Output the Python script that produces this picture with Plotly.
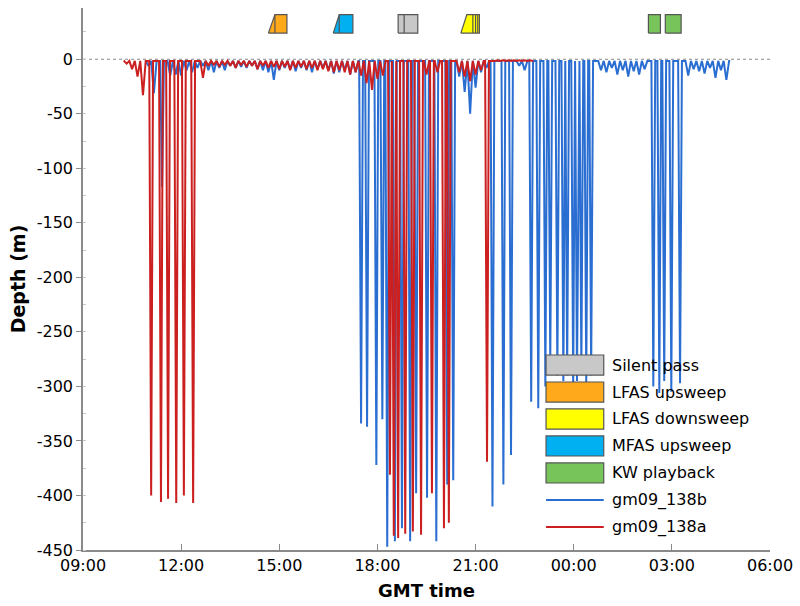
import pandas as pd
import plotly.graph_objects as go

# ---------------------------------------------------------------------------
# Data (clock times GMT, depths in metres)
# ---------------------------------------------------------------------------
TAG_B = "gm09_138b"
TAG_A = "gm09_138a"

# gm09_138b: record limits, deep dives and shallow activity (10-min samples)
b_start, b_end = "10:55", "04:47"
b_dive_times = ["11:25",
                "17:30", "17:41", "17:58", "18:09", "18:18", "18:32", "18:45",
                "19:00", "19:11", "19:31", "19:48", "20:08", "20:19",
                "21:31", "21:51", "22:05", "22:42", "22:55", "23:08", "23:17",
                "23:30", "23:41", "23:48", "23:59", "00:06", "00:14", "00:23",
                "00:32",
                "02:26", "02:37", "02:46", "02:59", "03:15"]
b_dive_depths = [-117,
                 -334, -337, -372, -330, -447, -442, -430,
                 -442, -398, -402, -442, -390, -386,
                 -410, -390, -363, -314, -320, -300, -279,
                 -290, -295, -290, -300, -295, -285, -298,
                 -290,
                 -300, -306, -295, -305, -297]
b_shallow_start = "11:00"
b_shallow_depths = [
    -6, -31, -20, -22, -15, -14,      # 11h
    -15, -10, -12, -8, -6, -10,       # 12h
    -12, -8, -10, -6, -8, -7,         # 13h
    -8, -6, -9, -10, -12, -19,        # 14h
    -10, -8, -9, -11, -8, -10,        # 15h
    -12, -9, -8, -10, -13, -12,       # 16h
    -10, -14, -12, -18, -20, -16,     # 17h
    -20, -18, -15, -22, -18, -20,     # 18h
    -15, -18, -22, -16, -20, -18,     # 19h
    -22, -20, -24, -16, -30, -50,     # 20h
    -26, -12, -8, -10, -6, -8,        # 21h
    -5, -8, -6, -10, -7, -6,          # 22h
    -8, -6, -9, -7, -6, -8,           # 23h
    -6, -9, -7, -8, -13, -10,         # 00h
    -12, -8, -14, -10, -16, -11,      # 01h
    -14, -9, -8, -10, -12, -7,        # 02h
    -6, -10, -12, -15, -9, -11,       # 03h
    -13, -8, -17, -10, -19,           # 04h
]

# gm09_138a
a_start, a_end = "10:17", "22:46"
a_dive_times = ["11:05", "11:23", "11:36", "11:51", "12:05", "12:22",
                "18:23", "18:30", "18:38", "18:51", "19:05", "19:20",
                "19:40", "20:02", "20:11", "21:21"]
a_dive_depths = [-400, -406, -403, -407, -400, -407,
                 -381, -437, -439, -435, -433, -436,
                 -398, -430, -425, -369]
a_shallow_start = "10:20"
a_shallow_depths = [
    -4, -9, -16, -33,                 # 10h
    -12, -10, -8, -9, -10, -8,        # 11h
    -10, -9, -8, -12, -17, -6,        # 12h
    -5, -7, -5, -6, -8, -5,           # 13h
    -7, -6, -9, -6, -8, -7,           # 14h
    -9, -7, -10, -8, -7, -9,          # 15h
    -8, -10, -9, -11, -12, -10,       # 16h
    -12, -14, -12, -15, -22, -28,     # 17h
    -18, -15, -12, -16, -14, -18,     # 18h
    -15, -20, -16, -14, -16, -12,     # 19h
    -15, -18, -14, -12, -16, -20,     # 20h
    -14, -10, -4, -1, -1, -1,         # 21h
    -1, -1, -1, -1, -1,               # 22h
]

# Exposure / playback periods shown along the top
event_names = ["LFAS upsweep", "MFAS upsweep", "Silent pass", "LFAS downsweep"]
event_ramp = ["14:40", "16:39", "18:38", "20:33"]
event_full = ["14:52", "16:50", "18:38", "20:44"]
event_stop = ["15:14", "17:15", "19:14", "21:07"]
event_marks = [["14:52"], ["16:50"], ["18:49"], ["20:55", "21:00", "21:04"]]
kw_start = ["02:17", "02:48"]
kw_stop = ["02:39", "03:17"]

legend_names = ["Silent pass", "LFAS upsweep", "LFAS downsweep",
                "MFAS upsweep", "KW playback", TAG_B, TAG_A]

x_tick_labels = ["09:00", "12:00", "15:00", "18:00", "21:00",
                 "00:00", "03:00", "06:00"]
y_tick_vals = [0, -50, -100, -150, -200, -250, -300, -350, -400, -450]
y_tick_text = ["0", "-50", "-100", "-150", "-200", "-250", "-300",
               "-350", "-400", "-450"]

# ---------------------------------------------------------------------------
# Styling
# ---------------------------------------------------------------------------
BLUE = "#2a6ed2"
RED = "#cc1f1f"
AXIS = "#8a8a8a"
EDGE = "#555555"
FILL = {"Silent pass": "#c8c8c8", "LFAS upsweep": "#ffa91b",
        "LFAS downsweep": "#ffff00", "MFAS upsweep": "#00b0f0",
        "KW playback": "#77c45a"}
LINE_COLOR = {TAG_B: BLUE, TAG_A: RED}
LINE_W = 2.0
FONT = "DejaVu Sans"

BASE = pd.Timestamp("2009-05-18")


def clock(s):
    """Clock string -> timestamp; hours before 09:00 fall on the next day."""
    h, m = map(int, s.split(":"))
    return BASE + pd.Timedelta(days=1 if h < 9 else 0, hours=h, minutes=m)


SURFACE = -1.5
DIVE_HALF = pd.Timedelta(minutes=3.5)
SPIKE_HALF = pd.Timedelta(minutes=5)
CLEARANCE = pd.Timedelta(minutes=9)


def dive_profile(start, end, dive_t, dive_d, sh_start, sh_d):
    dives = [(clock(t), d, DIVE_HALF) for t, d in zip(dive_t, dive_d)]
    sh_t = pd.date_range(clock(sh_start), periods=len(sh_d), freq="10min")
    events = list(dives)
    for t, d in zip(sh_t, sh_d):
        if all(abs(t - dt) > CLEARANCE for dt, _, _ in dives):
            events.append((t, d, SPIKE_HALF))
    events.sort(key=lambda e: e[0])
    xs, ys = [clock(start)], [SURFACE]
    for t, d, half in events:
        xs += [t - half, t, t + half]
        ys += [SURFACE, d, SURFACE]
    xs.append(clock(end))
    ys.append(SURFACE)
    return xs, ys


fig = go.Figure()

# Event boxes along the top of the panel
Y0, Y1 = 24, 41
for name, r, f, s, marks in zip(event_names, event_ramp, event_full,
                                event_stop, event_marks):
    xs = [clock(r), clock(f), clock(s), clock(s), clock(r)]
    fig.add_trace(go.Scatter(x=xs, y=[Y0, Y1, Y1, Y0, Y0], mode="lines",
                             fill="toself", fillcolor=FILL[name],
                             line=dict(color=EDGE, width=1.2),
                             hoverinfo="skip", showlegend=False))
    for m in marks:
        fig.add_trace(go.Scatter(x=[clock(m), clock(m)], y=[Y0, Y1],
                                 mode="lines",
                                 line=dict(color=EDGE, width=1.2),
                                 hoverinfo="skip", showlegend=False))
for s, e in zip(kw_start, kw_stop):
    fig.add_trace(go.Scatter(x=[clock(s), clock(e), clock(e), clock(s), clock(s)],
                             y=[Y0, Y0, Y1, Y1, Y0], mode="lines",
                             fill="toself", fillcolor=FILL["KW playback"],
                             line=dict(color=EDGE, width=1.2),
                             hoverinfo="skip", showlegend=False))

# Dive profiles (138a drawn last so it sits on top)
bx, by = dive_profile(b_start, b_end, b_dive_times, b_dive_depths,
                      b_shallow_start, b_shallow_depths)
ax, ay = dive_profile(a_start, a_end, a_dive_times, a_dive_depths,
                      a_shallow_start, a_shallow_depths)
fig.add_trace(go.Scatter(x=bx, y=by, mode="lines", name=TAG_B,
                         line=dict(color=BLUE, width=LINE_W), showlegend=False))
fig.add_trace(go.Scatter(x=ax, y=ay, mode="lines", name=TAG_A,
                         line=dict(color=RED, width=LINE_W), showlegend=False))

# Dotted surface reference line
fig.add_shape(type="line", xref="x domain", yref="y", x0=0, x1=1, y0=0, y1=0,
              line=dict(color="#888888", width=1, dash="dot"), layer="below")

# Legend box in the lower right of the panel
LEG_X0, LEG_X1, LEG_TXT = 0.674, 0.758, 0.767
LEG_TOP, LEG_STEP, LEG_HALF = 0.3413, 0.0498, 0.0185
for i, name in enumerate(legend_names):
    yc = LEG_TOP - i * LEG_STEP
    if name in FILL:
        fig.add_shape(type="rect", xref="paper", yref="paper",
                      x0=LEG_X0, x1=LEG_X1, y0=yc - LEG_HALF, y1=yc + LEG_HALF,
                      fillcolor=FILL[name], line=dict(color=EDGE, width=1.2))
    else:
        fig.add_shape(type="line", xref="paper", yref="paper",
                      x0=LEG_X0, x1=LEG_X1, y0=yc, y1=yc,
                      line=dict(color=LINE_COLOR[name], width=LINE_W))
    fig.add_annotation(x=LEG_TXT, y=yc, xref="paper", yref="paper",
                       text=name, showarrow=False, xanchor="left",
                       yanchor="middle", font=dict(size=16, color="black"))

fig.update_layout(
    width=800, height=606,
    margin=dict(l=83, r=30, t=8, b=56),
    plot_bgcolor="white", paper_bgcolor="white",
    font=dict(family=FONT, size=16, color="black"),
    showlegend=False,
    xaxis=dict(
        range=[clock("09:00"), clock("06:00")],
        tickmode="array",
        tickvals=[clock(t) for t in x_tick_labels],
        ticktext=x_tick_labels,
        ticks="inside", ticklen=6, tickcolor=AXIS,
        showline=True, linecolor=AXIS, linewidth=1.5,
        showgrid=False, zeroline=False,
        title=dict(text="<b>GMT time</b>", font=dict(size=18), standoff=10),
    ),
    yaxis=dict(
        range=[-450, 47],
        tickmode="array", tickvals=y_tick_vals, ticktext=y_tick_text,
        ticks="outside", ticklen=5, tickcolor=AXIS,
        minor=dict(dtick=25, tick0=0, ticks="inside", ticklen=3,
                   tickcolor="#c8c8c8"),
        showline=True, linecolor=AXIS, linewidth=1.5,
        showgrid=False, zeroline=False,
        title=dict(text="<b>Depth (m)</b>", font=dict(size=19), standoff=6),
    ),
)

fig.write_html("out.html")
